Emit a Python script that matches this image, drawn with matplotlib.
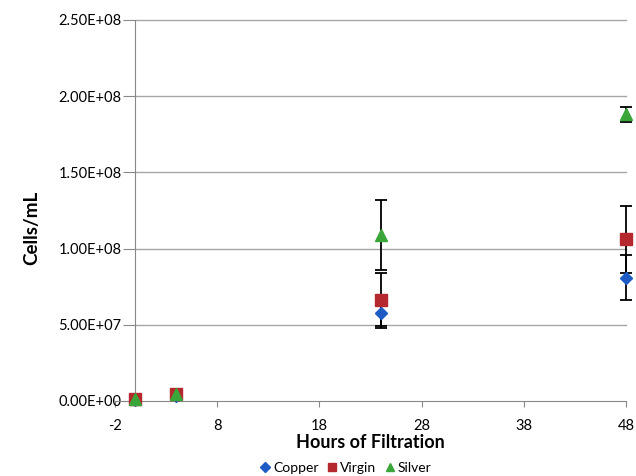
import matplotlib
matplotlib.use("Agg")
import matplotlib.pyplot as plt
from matplotlib.ticker import FuncFormatter, FixedLocator

hours = [0, 4, 24, 48]
copper = [0.5e6, 3.0e6, 5.8e7, 8.1e7]
copper_err = [0.3e6, 0.5e6, 9e6, 15e6]
virgin = [1.0e6, 4.5e6, 6.6e7, 1.06e8]
virgin_err = [0.3e6, 0.5e6, 18e6, 22e6]
silver = [1.0e6, 4.5e6, 1.09e8, 1.88e8]
silver_err = [0.3e6, 0.5e6, 23e6, 5e6]

x_ticks = [-2, 8, 18, 28, 38, 48]
y_ticks = [0, 5e7, 1e8, 1.5e8, 2e8, 2.5e8]

plt.rcParams['font.family'] = ['Lato', 'DejaVu Sans']
plt.rcParams['axes.unicode_minus'] = False

fig = plt.figure(figsize=(6.36, 4.76), dpi=100)
ax = fig.add_axes([115/636, 1-401/476, (626-115)/636, (401-20)/476])

ax.set_xlim(-2, 48)
ax.set_ylim(0, 2.5e8)

for yv in y_ticks[1:]:
    ax.plot([0, 48], [yv, yv], color='#a6a6a6', lw=1.0, zorder=1, clip_on=False)

series = [
    ("Copper", copper, copper_err, 'D', '#1f5bc4', 6.5),
    ("Virgin", virgin, virgin_err, 's', '#b5282e', 8),
    ("Silver", silver, silver_err, '^', '#3aa63a', 8.5),
]
for name, vals, err, m, c, ms in series:
    ax.errorbar(hours, vals, yerr=err, fmt='none', ecolor='black', elinewidth=1.3,
                capsize=4.5, capthick=1.3, zorder=3, clip_on=False)
for name, vals, err, m, c, ms in series:
    ax.plot(hours, vals, linestyle='none', marker=m, color=c, markersize=ms,
            label=name, zorder=4, clip_on=False)

for s in ['top', 'right']:
    ax.spines[s].set_visible(False)
ax.spines['left'].set_position(('data', 0))
ax.spines['left'].set_color('#888888')
ax.spines['bottom'].set_color('#888888')

ax.xaxis.set_major_locator(FixedLocator(x_ticks))
ax.yaxis.set_major_locator(FixedLocator(y_ticks))
ax.yaxis.set_major_formatter(FuncFormatter(lambda v, p: f"{v:.2E}"))
ax.tick_params(axis='y', length=9, color='#888888', labelsize=10.5, pad=1)
ax.tick_params(axis='x', length=4, color='#888888', labelsize=10.5, pad=9)

ax.set_xlabel("Hours of Filtration", fontsize=13, fontweight='bold', labelpad=1)
fig.text(32/636, 1-228/476, "Cells/mL", rotation=90, fontsize=13.5,
         fontweight='bold', ha='center', va='center')

ax.legend(loc='center', bbox_to_anchor=(345/636, 1-468/476), bbox_transform=fig.transFigure,
          ncol=3, frameon=False, fontsize=10, handletextpad=0.05, columnspacing=0.5,
          handlelength=1.0, markerscale=0.75, borderpad=0.1)

fig.savefig("out.png", dpi=100)
